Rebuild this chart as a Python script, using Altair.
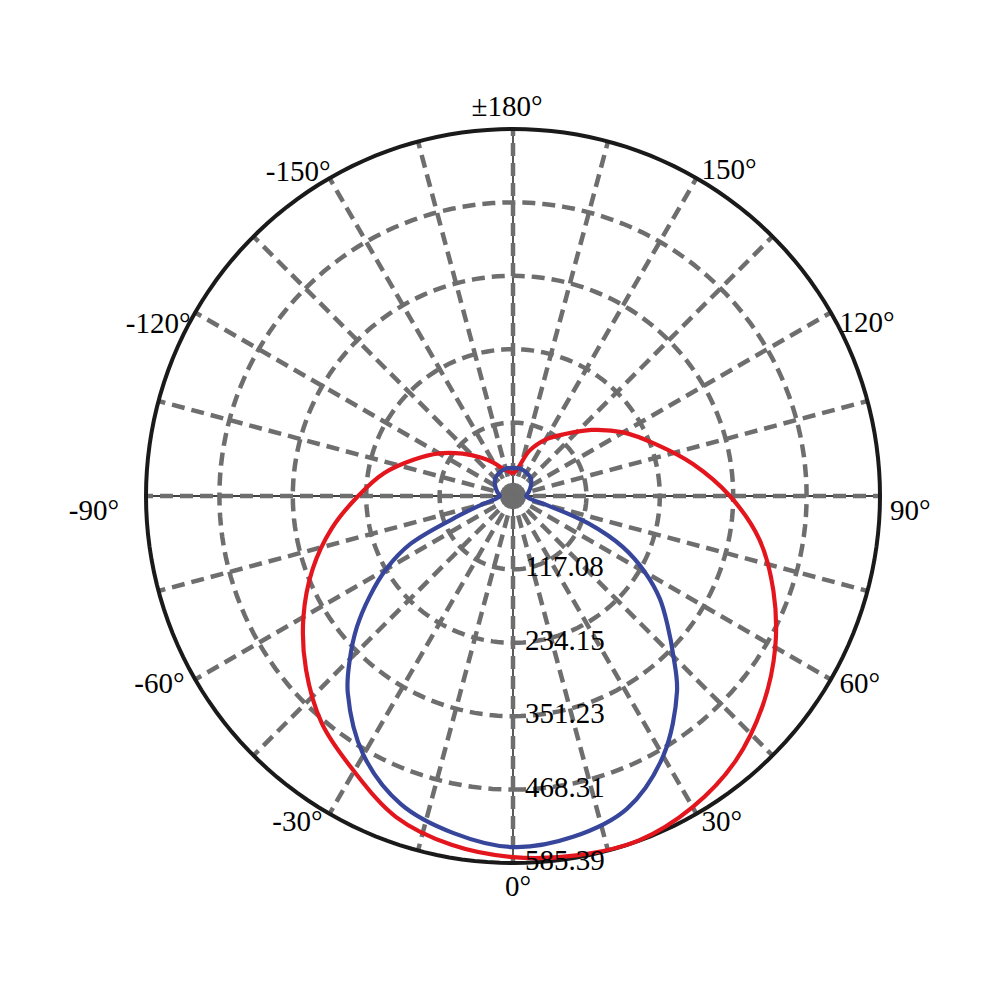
import altair as alt
import pandas as pd

RMAX = 585.39
ring_values = [117.08, 234.15, 351.23, 468.31, 585.39]
ring_labels = ["117.08", "234.15", "351.23", "468.31", "585.39"]
tick_angles = [0, 30, 60, 90, 120, 150, 180, -150, -120, -90, -60, -30]
tick_labels = ["0°", "30°", "60°", "90°", "120°", "150°", "±180°",
               "-150°", "-120°", "-90°", "-60°", "-30°"]
spoke_angles = list(range(0, 360, 15))

red_angles = [-180, -170, -160, -150, -140, -130, -120, -110, -100, -90, -80, -70,
              -60, -50, -40, -30, -20, -10, 0, 10, 20, 30, 40, 50, 60, 70, 80, 90,
              100, 110, 120, 130, 140, 150, 160, 170, 180]
red_values = [35, 40, 46, 61, 80, 105, 136, 169, 209, 247, 293, 340,
              386, 431, 474, 507, 545, 565, 576, 582, 585, 573, 552, 520, 483, 442, 399, 346,
              292, 242, 203, 164, 129, 104, 77, 45, 35]

blue_angles = [-180, -165, -150, -135, -120, -105, -90, -80, -75, -70, -65, -60, -55,
               -50, -45, -40, -30, -20, -10, 0, 10, 20, 30, 40, 45, 50, 55, 60, 65,
               70, 75, 80, 90, 105, 120, 135, 150, 165, 180]
blue_values = [45, 45, 43, 40, 33, 26, 21, 29, 50, 92, 180, 234, 279,
               325, 368, 410, 477, 523, 546, 560, 552, 531, 479, 407, 362, 322, 286, 243, 194,
               128, 55, 29, 21, 26, 33, 40, 43, 45, 45]

FONT = "Liberation Serif"
FS = 29

curves = pd.DataFrame({
    "angle": red_angles + blue_angles,
    "value": red_values + blue_values,
    "series": ["C90-C270"] * len(red_angles) + ["C0-C180"] * len(blue_angles),
    "idx": list(range(len(red_angles))) + list(range(len(blue_angles))),
})

circ_steps = list(range(0, 361, 2))
rings = pd.DataFrame([{"value": r, "angle": t, "ring": i}
                      for i, r in enumerate(ring_values) for t in circ_steps])
spokes = pd.DataFrame([{"angle": a, "value": v, "end": k}
                       for a in spoke_angles for k, v in enumerate([0, RMAX])])
ticks = pd.DataFrame({"angle": tick_angles, "label": tick_labels})
rlabels = pd.DataFrame({"value": ring_values, "label": ring_labels})

sc = alt.Scale(domain=[-RMAX, RMAX], nice=False, zero=False)
X = alt.X("px:Q", scale=sc, axis=None)
Y = alt.Y("py:Q", scale=sc, axis=None)


def polar(ch):
    return ch.transform_calculate(
        px="datum.value * sin(datum.angle * PI / 180)",
        py="-datum.value * cos(datum.angle * PI / 180)",
    )


axes_black = polar(alt.Chart(spokes).transform_filter("datum.angle % 90 == 0")).mark_line(
    color="black", strokeWidth=1.3).encode(x=X, y=Y, detail="angle:N", order="end:Q")

grid_rings = polar(alt.Chart(rings).transform_filter("datum.ring < 4")).mark_line(
    color="#6e6e6e", strokeWidth=4.5, strokeDash=[13, 7]).encode(
    x=X, y=Y, detail="ring:N", order="angle:Q")

grid_spokes = polar(alt.Chart(spokes)).mark_line(
    color="#6e6e6e", strokeWidth=4.5, strokeDash=[13, 7]).encode(
    x=X, y=Y, detail="angle:N", order="end:Q")

outer = polar(alt.Chart(rings).transform_filter("datum.ring == 4")).mark_line(
    color="#1a1a1a", strokeWidth=4).encode(x=X, y=Y, order="angle:Q")

lines = polar(alt.Chart(curves)).mark_line(
    strokeWidth=4.2, interpolate="catmull-rom").encode(
    x=X, y=Y,
    color=alt.Color("series:N", scale=alt.Scale(domain=["C90-C270", "C0-C180"],
                                                range=["#e3161e", "#37469b"]), legend=None),
    detail="series:N",
    order=alt.Order("idx:Q"),
)
red_line = lines.transform_filter("datum.series == 'C90-C270'")
blue_line = lines.transform_filter("datum.series == 'C0-C180'")

ring_text = alt.Chart(rlabels).transform_calculate(
    px="datum.value * 0", py="-datum.value").mark_text(
    align="left", baseline="middle", dx=12, dy=-2, font=FONT, fontSize=FS, color="black"
).encode(x=X, y=Y, text="label:N")

tick_base = polar(alt.Chart(ticks).transform_calculate(value=f"{RMAX} * 1.027"))
txt = dict(font=FONT, fontSize=FS, color="black")
right_t = tick_base.transform_filter(
    "datum.angle > 0 && datum.angle < 180 && datum.angle != 90 && datum.angle != 120").mark_text(
    align="left", baseline="middle", **txt).encode(x=X, y=Y, text="label:N")
right_t2 = tick_base.transform_filter("datum.angle == 90 || datum.angle == 120").mark_text(
    align="left", baseline="middle", dy=15, **txt).encode(x=X, y=Y, text="label:N")
left_t = tick_base.transform_filter(
    "datum.angle < 0 && datum.angle != -90 && datum.angle != -120 && datum.angle != -150").mark_text(
    align="right", baseline="middle", dx=-2, **txt).encode(x=X, y=Y, text="label:N")
left_t4 = tick_base.transform_filter("datum.angle == -150").mark_text(
    align="right", baseline="middle", dx=6, dy=2, **txt).encode(x=X, y=Y, text="label:N")
left_t2 = tick_base.transform_filter("datum.angle == -120").mark_text(
    align="right", baseline="middle", dx=4, dy=16, **txt).encode(x=X, y=Y, text="label:N")
left_t3 = tick_base.transform_filter("datum.angle == -90").mark_text(
    align="right", baseline="middle", dx=-17, dy=15, **txt).encode(x=X, y=Y, text="label:N")
bottom_t = tick_base.transform_filter("datum.angle == 0").mark_text(
    align="center", baseline="top", dx=5, **txt).encode(x=X, y=Y, text="label:N")
top_t = tick_base.transform_filter("datum.angle == 180").mark_text(
    align="center", baseline="bottom", dx=-6, dy=3, **txt).encode(x=X, y=Y, text="label:N")

chart = alt.layer(
    axes_black, grid_rings, grid_spokes, outer, red_line, blue_line,
    ring_text, right_t, right_t2, left_t, left_t4, left_t2, left_t3, bottom_t, top_t
).properties(
    width=734, height=734,
    autosize=alt.AutoSizeParams(type="none"),
    padding={"left": 138, "top": 121, "right": 100, "bottom": 100},
).configure_view(stroke=None)

chart.save("out.html", embed_options={"renderer": "svg", "actions": False})
